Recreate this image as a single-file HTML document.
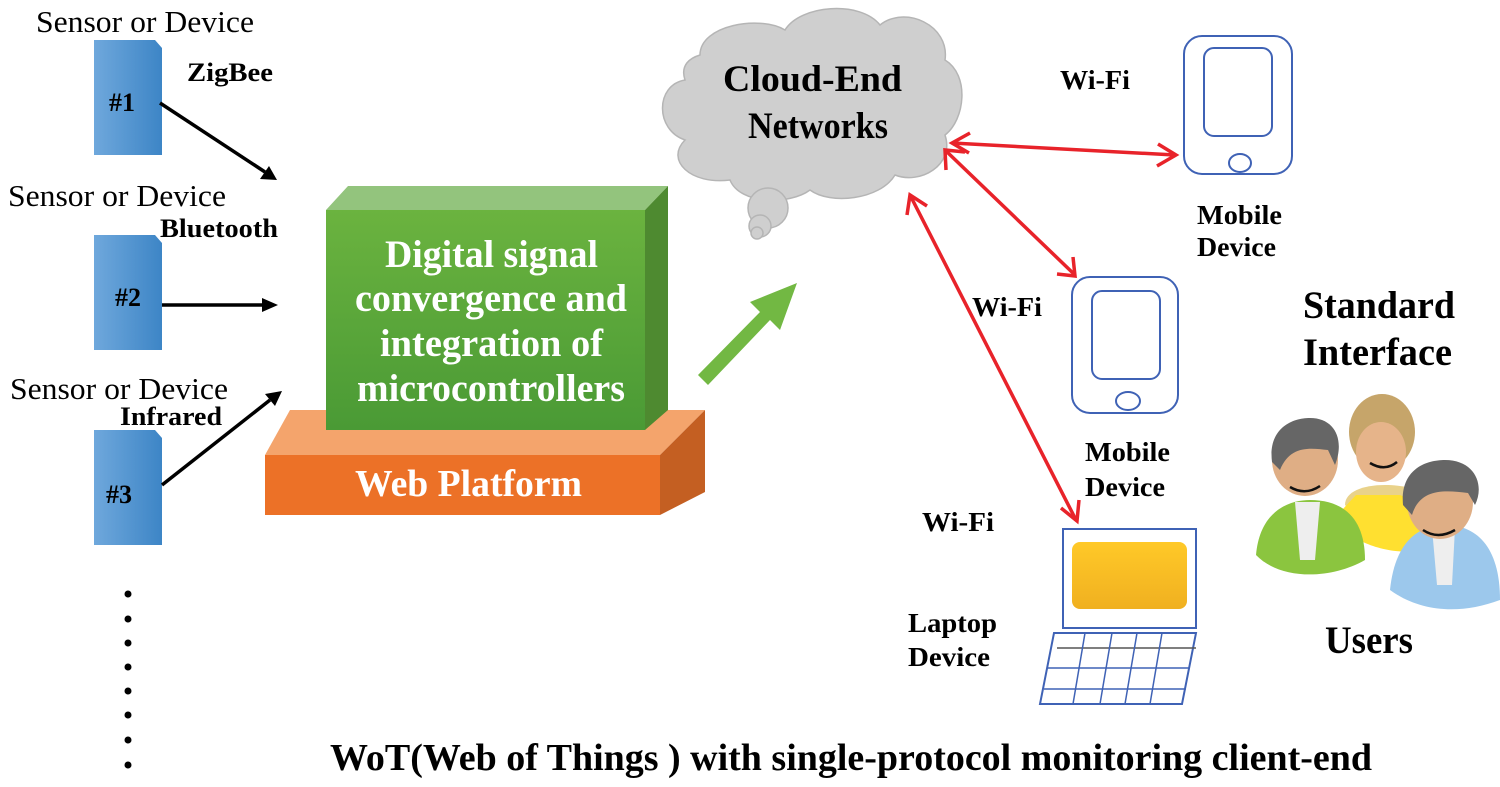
<!DOCTYPE html>
<html><head><meta charset="utf-8"><style>
html,body{margin:0;padding:0;background:#fff}
svg{display:block}
text{font-family:"Liberation Serif",serif}
.b{font-weight:bold}
</style></head><body>
<svg width="1500" height="787" viewBox="0 0 1500 787" xmlns="http://www.w3.org/2000/svg">
<defs>
<linearGradient id="doc" x1="0" x2="1"><stop offset="0" stop-color="#6fa8dc"/><stop offset="1" stop-color="#3d85c6"/></linearGradient>
<linearGradient id="yel" x1="0" y1="0" x2="0" y2="1"><stop offset="0" stop-color="#ffc928"/><stop offset="1" stop-color="#f0b020"/></linearGradient>
<linearGradient id="gf" x1="0" y1="0" x2="0" y2="1"><stop offset="0" stop-color="#6bb33f"/><stop offset="1" stop-color="#4a9a35"/></linearGradient>
</defs>

<g fill="url(#doc)">
<path d="M94,40 H155 L162,48 V155 H94 Z"/>
<path d="M94,235 H155 L162,243 V350 H94 Z"/>
<path d="M94,430 H155 L162,438 V545 H94 Z"/>
</g>
<g font-size="26" class="b" text-anchor="middle">
<text x="122" y="111">#1</text><text x="128" y="306">#2</text><text x="119" y="503">#3</text>
</g>
<g font-size="31">
<text x="36" y="32" textLength="218" lengthAdjust="spacingAndGlyphs">Sensor or Device</text>
<text x="8" y="206" textLength="218" lengthAdjust="spacingAndGlyphs">Sensor or Device</text>
<text x="10" y="399" textLength="218" lengthAdjust="spacingAndGlyphs">Sensor or Device</text>
</g>
<g font-size="26" class="b">
<text x="187" y="81" textLength="86" lengthAdjust="spacingAndGlyphs">ZigBee</text>
<text x="160" y="237" textLength="118" lengthAdjust="spacingAndGlyphs">Bluetooth</text>
<text x="120" y="425" textLength="102" lengthAdjust="spacingAndGlyphs">Infrared</text>
</g>
<g stroke="#000" stroke-width="3.5">
<line x1="160" y1="103" x2="265" y2="172"/>
<line x1="162" y1="305" x2="265" y2="305"/>
<line x1="162" y1="485" x2="270" y2="400"/>
</g>
<g fill="#000">
<polygon points="277,180 260,179 269,166"/>
<polygon points="278,305 262,298 262,312"/>
<polygon points="282,391 275,406 265,394"/>
</g>
<g fill="#000">
<circle cx="128" cy="594" r="3.5"/><circle cx="128" cy="619" r="3.5"/><circle cx="128" cy="643" r="3.5"/><circle cx="128" cy="667" r="3.5"/><circle cx="128" cy="691" r="3.5"/><circle cx="128" cy="715" r="3.5"/><circle cx="128" cy="740" r="3.5"/><circle cx="128" cy="765" r="3.5"/>
</g>

<polygon points="265,455 290,410 705,410 660,455" fill="#f4a46c"/>
<polygon points="660,455 705,410 705,492 660,515" fill="#c45f22"/>
<rect x="265" y="455" width="395" height="60" fill="#ec7127"/>
<text x="355" y="496" font-size="38" class="b" fill="#fff" textLength="227" lengthAdjust="spacingAndGlyphs">Web Platform</text>
<polygon points="326,210 348,186 668,186 645,210" fill="#93c47d"/>
<polygon points="645,210 668,186 668,410 645,430" fill="#4e8a30"/>
<rect x="326" y="210" width="319" height="220" fill="url(#gf)"/>
<g font-size="39" class="b" fill="#fff">
<text x="385" y="267" textLength="213" lengthAdjust="spacingAndGlyphs">Digital signal</text>
<text x="355" y="311" textLength="272" lengthAdjust="spacingAndGlyphs">convergence and</text>
<text x="380" y="356" textLength="223" lengthAdjust="spacingAndGlyphs">integration of</text>
<text x="357" y="401" textLength="268" lengthAdjust="spacingAndGlyphs">microcontrollers</text>
</g>
<polygon points="698,375 760,312 750,302 797,283 780,330 770,320 708,385" fill="#72b843"/>

<g fill="#cfcfcf" stroke="#b5b5b5" stroke-width="1.5">
<path d="M700,55 C700,25 760,15 785,30 C800,5 860,0 880,25 C905,5 950,25 945,60 C970,75 965,120 945,135 C955,165 920,185 895,175 C880,200 830,205 810,190 C790,205 740,205 730,180 C690,185 665,160 685,140 C655,130 655,85 685,80 C680,65 690,58 700,55 Z"/>
<circle cx="768" cy="208" r="20"/>
<circle cx="760" cy="226" r="11"/>
<circle cx="757" cy="233" r="6"/>
</g>
<g font-size="37" class="b">
<text x="723" y="91" textLength="179" lengthAdjust="spacingAndGlyphs">Cloud-End</text>
<text x="748" y="138" textLength="140" lengthAdjust="spacingAndGlyphs">Networks</text>
</g>

<g stroke="#e8232a" stroke-width="3.5" fill="none">
<line x1="952" y1="143" x2="1175" y2="155"/>
<polyline points="970,133 952,143 969,153"/>
<polyline points="1158,144 1176,155 1157,166"/>
<line x1="945" y1="150" x2="1075" y2="275"/>
<polyline points="946,170 945,150 965,152"/>
<polyline points="1057,274 1075,276 1073,257"/>
<line x1="910" y1="195" x2="1076" y2="520"/>
<polyline points="907,215 910,195 927,206"/>
<polyline points="1061,508 1077,521 1079,500"/>
</g>

<g fill="#fff" stroke="#3f62b5" stroke-width="2">
<rect x="1184" y="36" width="108" height="138" rx="18"/>
<rect x="1204" y="48" width="68" height="88" rx="10"/>
<ellipse cx="1240" cy="163" rx="11" ry="9"/>
<rect x="1072" y="277" width="106" height="136" rx="18"/>
<rect x="1092" y="291" width="68" height="88" rx="10"/>
<ellipse cx="1128" cy="401" rx="12" ry="9"/>
</g>
<g font-size="27" class="b">
<text x="1060" y="89" textLength="70" lengthAdjust="spacingAndGlyphs">Wi-Fi</text>
<text x="972" y="316" textLength="70" lengthAdjust="spacingAndGlyphs">Wi-Fi</text>
<text x="922" y="531" textLength="72" lengthAdjust="spacingAndGlyphs">Wi-Fi</text>
<text x="1197" y="224" textLength="85" lengthAdjust="spacingAndGlyphs">Mobile</text><text x="1197" y="256" textLength="79" lengthAdjust="spacingAndGlyphs">Device</text>
<text x="1085" y="461" textLength="85" lengthAdjust="spacingAndGlyphs">Mobile</text><text x="1085" y="496" textLength="80" lengthAdjust="spacingAndGlyphs">Device</text>
<text x="908" y="632" textLength="89" lengthAdjust="spacingAndGlyphs">Laptop</text><text x="908" y="666" textLength="82" lengthAdjust="spacingAndGlyphs">Device</text>
</g>

<rect x="1063" y="529" width="133" height="99" fill="#fff" stroke="#3f62b5" stroke-width="2"/>
<rect x="1072" y="542" width="115" height="67" rx="8" fill="url(#yel)"/>
<g stroke="#3f62b5" stroke-width="1.5" fill="none">
<polygon points="1054,633 1196,633 1182,704 1040,704" fill="#fff" stroke-width="2"/>
<line x1="1057" y1="648" x2="1196" y2="648" stroke="#555"/>
<line x1="1048" y1="668" x2="1190" y2="668"/>
<line x1="1044" y1="689" x2="1186" y2="689"/>
<line x1="1085" y1="633" x2="1073" y2="704"/>
<line x1="1112" y1="633" x2="1100" y2="704"/>
<line x1="1137" y1="633" x2="1125" y2="704"/>
<line x1="1162" y1="633" x2="1150" y2="704"/>
</g>

<g>
<path d="M1345,505 C1345,485 1385,480 1420,490 L1430,520 C1420,540 1400,545 1380,540 Z" fill="#e9d28a"/>
<path d="M1342,510 C1330,540 1400,560 1425,548 C1430,530 1415,500 1400,495 L1356,495 Z" fill="#ffe030"/>
<ellipse cx="1382" cy="432" rx="33" ry="38" fill="#c6a56a"/>
<ellipse cx="1381" cy="452" rx="25" ry="30" fill="#e6b48a"/>
<path d="M1370,463 Q1385,472 1397,462" stroke="#111" stroke-width="2.5" fill="none"/>
<path d="M1256,555 C1260,510 1290,500 1310,500 C1345,500 1365,520 1365,560 C1330,580 1280,580 1256,555 Z" fill="#8bc53f"/>
<path d="M1295,502 L1320,502 L1315,560 L1300,560 Z" fill="#eee"/>
<ellipse cx="1305" cy="460" rx="33" ry="36" fill="#dfae85"/>
<path d="M1272,462 C1268,430 1290,418 1310,418 C1335,418 1345,440 1335,465 L1328,450 C1310,448 1290,445 1280,470 Z" fill="#666"/>
<path d="M1290,487 Q1305,496 1320,486" stroke="#111" stroke-width="2.5" fill="none"/>
<path d="M1390,590 C1395,540 1420,525 1445,525 C1475,525 1500,545 1500,600 C1460,615 1420,612 1390,590 Z" fill="#9cc8ec"/>
<path d="M1432,528 L1455,528 L1452,585 L1437,585 Z" fill="#eee"/>
<ellipse cx="1440" cy="502" rx="33" ry="37" fill="#dfae85"/>
<path d="M1403,505 C1400,470 1425,460 1445,460 C1475,460 1485,485 1475,505 L1468,493 C1445,490 1420,488 1412,515 Z" fill="#666"/>
<path d="M1423,530 Q1438,540 1455,530" stroke="#111" stroke-width="2.5" fill="none"/>
</g>
<g font-size="39" class="b">
<text x="1303" y="318" textLength="152" lengthAdjust="spacingAndGlyphs">Standard</text>
<text x="1303" y="365" textLength="149" lengthAdjust="spacingAndGlyphs">Interface</text>
<text x="1325" y="653" textLength="88" lengthAdjust="spacingAndGlyphs">Users</text>
</g>

<text x="330" y="770" font-size="38" class="b" textLength="1042" lengthAdjust="spacingAndGlyphs">WoT(Web of Things ) with single-protocol monitoring client-end</text>
</svg>
</body></html>
